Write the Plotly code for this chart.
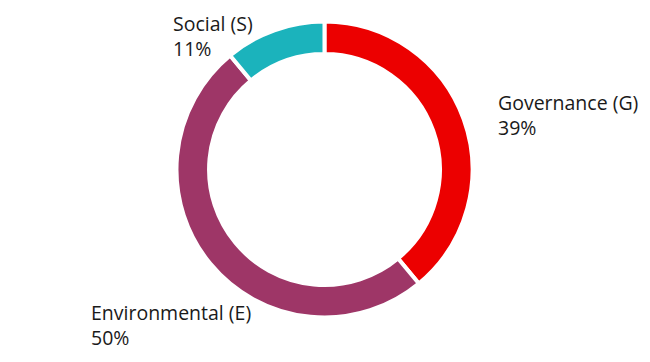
import plotly.graph_objects as go

categories = ["Governance (G)", "Environmental (E)", "Social (S)"]
values = [39, 50, 11]
colors = ["#EC0000", "#9E3667", "#1BB3BC"]

fig = go.Figure(go.Pie(
    labels=categories,
    values=values,
    hole=0.78,
    sort=False,
    direction="clockwise",
    rotation=0,
    marker=dict(colors=colors, line=dict(color="white", width=4)),
    textinfo="none",
    hoverinfo="label+percent",
    showlegend=False,
    domain=dict(x=[0.2592, 0.7146], y=[0.145, 0.9627]),
))

label_pos = {
    "Social (S)": (0.2508, 1.0),
    "Governance (G)": (0.7508, 0.782),
    "Environmental (E)": (0.1246, 0.2017),
}
for cat, v in zip(categories, values):
    x, y = label_pos[cat]
    fig.add_annotation(
        x=x, y=y, xref="paper", yref="paper",
        xanchor="left", yanchor="top", align="left",
        text=f"{cat}<br>{v}%", showarrow=False,
        font=dict(family="Open Sans", size=19.5, color="#1a1a1a"),
    )

fig.update_layout(
    width=650, height=362,
    margin=dict(l=0, r=0, t=0, b=0),
    paper_bgcolor="white", plot_bgcolor="white",
)
fig.write_html("out.html")
